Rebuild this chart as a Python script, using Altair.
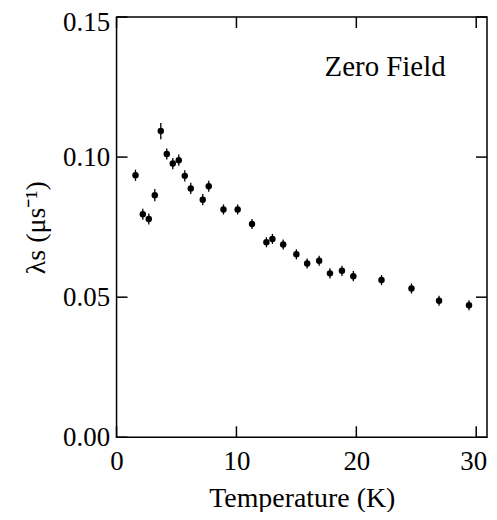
import altair as alt
import pandas as pd

# Data
temps = [1.58, 2.19, 2.69, 3.19, 3.69, 4.19, 4.69, 5.19, 5.69, 6.19, 7.19, 7.69,
         8.92, 10.1, 11.3, 12.5, 13.0, 13.9, 15.0, 15.9, 16.9, 17.8, 18.8, 19.75,
         22.1, 24.6, 26.9, 29.4]
lam = [0.0935, 0.0796, 0.0779, 0.0864, 0.1093, 0.1011, 0.0977, 0.0989, 0.0933, 0.0888,
       0.0848, 0.0896, 0.0813, 0.0813, 0.0761, 0.0696, 0.0708, 0.0688, 0.0653, 0.0620,
       0.0630, 0.0585, 0.0594, 0.0575, 0.0561, 0.0531, 0.0487, 0.0471]
err = [0.0020, 0.0020, 0.0020, 0.0022, 0.0029, 0.0020, 0.0020, 0.0020, 0.0020, 0.0020,
       0.0020, 0.0020, 0.0018, 0.0018, 0.0018, 0.0018, 0.0018, 0.0018, 0.0018, 0.0018,
       0.0018, 0.0018, 0.0018, 0.0018, 0.0018, 0.0018, 0.0018, 0.0018]
x_ticks = [0, 10, 20, 30]
y_ticks = [0.0, 0.05, 0.10, 0.15]
annotation = ["Zero Field"]
annot_x = [22.4]
annot_y = [0.129]

W, H = 372, 422
TL = 11
FONT = "Liberation Serif, Times New Roman, serif"

df = pd.DataFrame({
    "T": temps,
    "lam": lam,
    "lo": [l - e for l, e in zip(lam, err)],
    "hi": [l + e for l, e in zip(lam, err)],
})
xs = alt.Scale(domain=[0, 30.9], nice=False, zero=False)
ys = alt.Scale(domain=[0, 0.15], nice=False, zero=False)

x_axis = alt.Axis(values=x_ticks, format="d", tickSize=0, domain=False, grid=False,
                  labelFont=FONT, labelFontSize=27, labelColor="black", labelPadding=11,
                  labelOffset={"condition": {"test": "datum.value == 30", "value": -3}, "value": 0},
                  title="Temperature (K)", titleFont=FONT, titleFontSize=28,
                  titleFontWeight="normal", titleColor="black", titlePadding=11,
                  labelFlush=False)
y_axis = alt.Axis(values=y_ticks, format=".2f", tickSize=0, domain=False, grid=False,
                  labelFont=FONT, labelFontSize=27, labelColor="black", labelPadding=7,
                  labelOffset={"condition": {"test": "datum.value == 0.15", "value": 6}, "value": 0},
                  title="λs (μs⁻¹)", titleFont=FONT, titleFontSize=28,
                  titleFontWeight="normal", titleColor="black", titlePadding=12,
                  labelFlush=False)


def X(field):
    return alt.X(field, scale=xs, axis=x_axis)


def Y(field):
    return alt.Y(field, scale=ys, axis=y_axis)


errbars = alt.Chart(df).mark_rule(color="black", strokeWidth=1.3).encode(
    x=X("T:Q"), y=Y("lo:Q"), y2="hi:Q",
)
points = alt.Chart(df).mark_circle(size=42, color="black", opacity=1).encode(
    x=X("T:Q"), y=Y("lam:Q"),
)

xt = pd.DataFrame({"v": x_ticks})
yt = pd.DataFrame({"v": y_ticks})
tick_style = dict(color="black", strokeWidth=1.5)
bottom_ticks = alt.Chart(xt).mark_rule(**tick_style).encode(
    x=X("v:Q"), y=alt.value(H), y2=alt.value(H - TL))
top_ticks = alt.Chart(xt).mark_rule(**tick_style).encode(
    x=X("v:Q"), y=alt.value(0), y2=alt.value(TL))
left_ticks = alt.Chart(yt).mark_rule(**tick_style).encode(
    y=Y("v:Q"), x=alt.value(0), x2=alt.value(TL))
right_ticks = alt.Chart(yt).mark_rule(**tick_style).encode(
    y=Y("v:Q"), x=alt.value(W), x2=alt.value(W - TL))

tdf = pd.DataFrame({"x": annot_x, "y": annot_y, "t": annotation})
label = alt.Chart(tdf).mark_text(font=FONT, fontSize=29, color="black",
                                 align="center", baseline="alphabetic").encode(
    x=X("x:Q"), y=Y("y:Q"), text="t:N",
)

chart = alt.layer(errbars, points, bottom_ticks, top_ticks, left_ticks, right_ticks, label).properties(
    width=W, height=H,
    background="white",
    autosize=alt.AutoSizeParams(type="none"),
    padding={"left": 109, "top": 8, "right": 2, "bottom": 74},
).configure_view(stroke="black", strokeWidth=1.5)

chart.save("out.html", embed_options={"renderer": "svg", "actions": False})
